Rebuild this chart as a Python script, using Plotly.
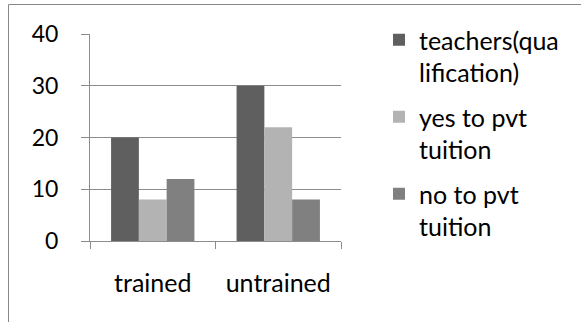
import plotly.graph_objects as go

# Categories and series
categories = ["trained", "untrained"]
series_names = ["teachers(qua<br>lification)", "yes to pvt<br>tuition", "no to pvt<br>tuition"]
teachers_qualification = [20, 30]
yes_to_pvt_tuition = [8, 22]
no_to_pvt_tuition = [12, 8]
y_ticks = [0, 10, 20, 30, 40]

series_values = [teachers_qualification, yes_to_pvt_tuition, no_to_pvt_tuition]
series_colors = ["#5f5f5f", "#b3b3b3", "#808080"]

W, H = 581, 322
M_L, M_R, M_T, M_B = 90, 240, 34, 81
FAMILY = "Lato, Calibri, Carlito, sans-serif"
FONT = dict(family=FAMILY, size=25, color="#000000")
TICK_FONT = dict(family=FAMILY, size=23, color="#000000")
LINE = "#8c8c8c"

fig = go.Figure()
for i, (name, vals, col) in enumerate(zip(series_names, series_values, series_colors)):
    fig.add_trace(go.Bar(
        x=categories, y=vals, name=name, marker=dict(color=col, line=dict(width=0)),
        legendgroup=f"g{i}",
    ))

# Chart-area frame (pixel positions converted to paper coordinates)
pw, ph = W - M_L - M_R, H - M_T - M_B
def px_x(p):
    return (p - M_L) / pw
def px_y(p):
    return (H - M_B - p) / ph

frame = "#878787"
fig.add_shape(type="line", xref="paper", yref="paper",
              x0=px_x(8.5), x1=px_x(W + 5), y0=px_y(4.5), y1=px_y(4.5),
              line=dict(color=frame, width=1))
fig.add_shape(type="line", xref="paper", yref="paper",
              x0=px_x(8.5), x1=px_x(8.5), y0=px_y(4.5), y1=px_y(H + 5),
              line=dict(color=frame, width=1))

fig.update_layout(
    width=W, height=H,
    margin=dict(l=M_L, r=M_R, t=M_T, b=M_B, pad=0),
    paper_bgcolor="white", plot_bgcolor="white",
    font=FONT,
    barmode="group", bargap=0.336, bargroupgap=0,
    showlegend=True,
    legend=dict(
        x=px_x(379), y=px_y(17), xanchor="left", yanchor="top",
        font=FONT, valign="top", tracegroupgap=9, maxheight=400,
        bgcolor="rgba(0,0,0,0)", itemclick=False,
    ),
    xaxis=dict(
        type="category", showline=True, linecolor=LINE, linewidth=1,
        ticks="outside", ticklen=7, tickcolor=LINE, tickwidth=1,
        tickson="boundaries", showgrid=False, ticklabelstandoff=20,
        tickfont=FONT,
    ),
    yaxis=dict(
        range=[0, 40], tickvals=y_ticks, showline=True, linecolor=LINE, linewidth=1,
        ticks="outside", ticklen=8, tickcolor=LINE, tickwidth=1,
        showgrid=True, gridcolor=LINE, gridwidth=1, zeroline=False,
        ticklabelstandoff=18, tickfont=TICK_FONT,
    ),
)

fig.write_html("out.html")
